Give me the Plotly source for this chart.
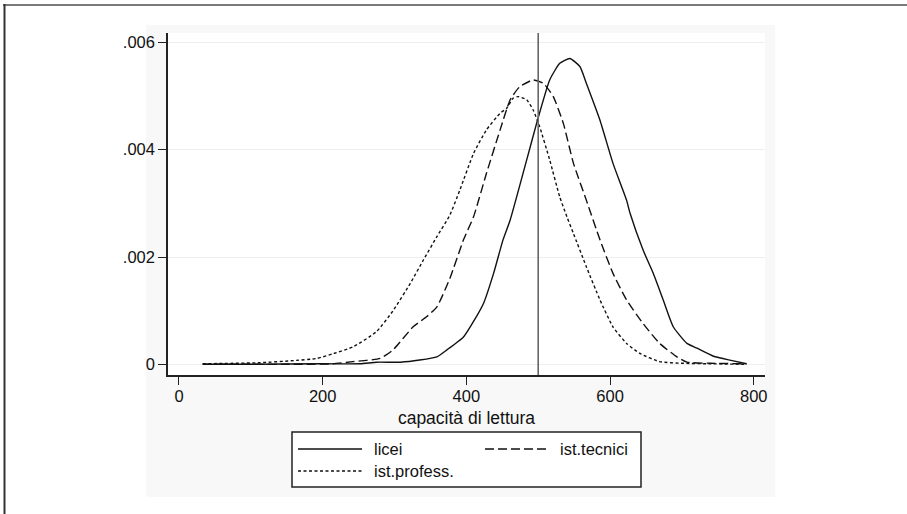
import plotly.graph_objects as go

# ---------------- data ----------------
series_names = ["licei", "ist.tecnici", "ist.profess."]

licei_x = [33, 100, 200, 252, 275, 308, 335, 359, 373, 396, 410, 424, 438, 451, 461,
           484, 499, 516, 530, 544, 558, 567, 586, 604, 623, 628, 646, 660, 674, 688,
           707, 721, 744, 770, 790]
licei_y = [0.0, 0.0, 0.00001, 0.00001, 0.00004, 0.00004, 0.00008, 0.00014, 0.00027,
           0.00051, 0.0008, 0.00114, 0.0017, 0.00232, 0.00269, 0.00381, 0.00455,
           0.0053, 0.00561, 0.0057, 0.00555, 0.00524, 0.00455, 0.00375, 0.00306,
           0.00281, 0.00213, 0.0017, 0.0012, 0.0007, 0.00039, 0.0003, 0.00015,
           0.00007, 0.00001]

tecnici_x = [33, 100, 150, 214, 242, 280, 298, 326, 345, 359, 377, 396, 410, 428, 447,
             461, 474, 493, 507, 521, 535, 549, 567, 586, 604, 623, 646, 669, 693, 707,
             740, 790]
tecnici_y = [0.0, 0.0, 0.0, 0.00001, 0.00005, 0.00011, 0.00027, 0.0007, 0.00089,
             0.00107, 0.0016, 0.00232, 0.00275, 0.00356, 0.00437, 0.00493, 0.00517,
             0.0053, 0.00524, 0.00499, 0.00449, 0.00375, 0.00306, 0.00232, 0.0017,
             0.0012, 0.00076, 0.00039, 0.00014, 0.00004, 0.00002, 0.00001]

profess_x = [33, 113, 160, 192, 215, 243, 275, 298, 322, 340, 359, 377, 391, 410, 428,
             447, 456, 465, 472, 484, 493, 502, 516, 530, 540, 549, 567, 586, 604, 623,
             642, 669, 700, 740, 790]
profess_y = [0.00001, 0.00003, 0.00007, 0.00011, 0.0002, 0.00033, 0.00061, 0.001,
             0.00151, 0.00194, 0.00238, 0.00278, 0.00325, 0.00393, 0.00437, 0.00468,
             0.00477, 0.00496, 0.00499, 0.00493, 0.00474, 0.00443, 0.00381, 0.00312,
             0.00275, 0.00244, 0.00182, 0.0012, 0.0007, 0.00039, 0.0002, 0.00005,
             0.00002, 0.00001, 0.0]

x_tickvals = [0, 200, 400, 600, 800]
x_ticktext = ["0", "200", "400", "600", "800"]
y_tickvals = [0, 0.002, 0.004, 0.006]
y_ticktext = ["0", ".002", ".004", ".006"]
ref_value = 500
x_title = "capacità di lettura"

# ---------------- layout geometry ----------------
W, H = 907, 514
L, R, T, B = 168, 142, 33, 139
PW, PH = W - L - R, H - T - B
FONT = "Liberation Sans, Arial, Helvetica, sans-serif"
FS = 16.5


def px(xp):
    return (xp - L) / PW


def py(yp):
    return (H - B - yp) / PH


styles = [
    dict(color="#111", width=1.4, dash="solid"),
    dict(color="#111", width=1.4, dash="9px,4px"),
    dict(color="#111", width=1.4, dash="3px,2.5px"),
]

fig = go.Figure()
for name, xs, ys, st in zip(series_names,
                            [licei_x, tecnici_x, profess_x],
                            [licei_y, tecnici_y, profess_y], styles):
    fig.add_trace(go.Scatter(x=xs, y=ys, mode="lines", name=name,
                             line=dict(st, shape="spline", smoothing=0.5),
                             showlegend=False, hoverinfo="skip"))

shapes = []
# outer frame (cropped figure border)
shapes.append(dict(type="line", xref="paper", yref="paper", x0=px(3), x1=px(907),
                   y0=py(5), y1=py(5), line=dict(color="#7a7a7a", width=2), layer="above"))
shapes.append(dict(type="line", xref="paper", yref="paper", x0=px(4.5), x1=px(4.5),
                   y0=py(4), y1=py(514), line=dict(color="#333", width=2), layer="above"))
# graph region (light gray)
shapes.append(dict(type="rect", xref="paper", yref="paper", x0=px(146), x1=px(775),
                   y0=py(25), y1=py(497), fillcolor="#f8f8f8", line=dict(width=0),
                   layer="below"))
# plot region (white)
shapes.append(dict(type="rect", xref="x domain", yref="y domain", x0=0, x1=1,
                   y0=0, y1=1, fillcolor="white", line=dict(width=0), layer="below"))
# reference vertical line
shapes.append(dict(type="line", xref="x", yref="y domain", x0=ref_value, x1=ref_value,
                   y0=0, y1=1, line=dict(color="#666", width=1.6), layer="above"))

# legend box
lg_x0, lg_x1, lg_y0, lg_y1 = 292, 641, 432, 487
shapes.append(dict(type="rect", xref="paper", yref="paper", x0=px(lg_x0), x1=px(lg_x1),
                   y0=py(lg_y0), y1=py(lg_y1), line=dict(color="#222", width=1.5),
                   fillcolor="white", layer="above"))
legend_pos = [(298, 362, 449, 372), (485, 547, 449, 558), (298, 362, 471, 372)]
annotations = []
for name, st, (sx0, sx1, sy, tx) in zip(series_names, styles, legend_pos):
    shapes.append(dict(type="line", xref="paper", yref="paper", x0=px(sx0), x1=px(sx1),
                       y0=py(sy), y1=py(sy), line=st, layer="above"))
    annotations.append(dict(xref="paper", yref="paper", x=px(tx), y=py(sy), text=name,
                            showarrow=False, xanchor="left", yanchor="middle",
                            font=dict(family=FONT, size=FS, color="#111")))

fig.update_layout(
    width=W, height=H,
    margin=dict(l=L, r=R, t=T, b=B, pad=0),
    paper_bgcolor="white", plot_bgcolor="white",
    font=dict(family=FONT, size=FS, color="#111"),
    shapes=shapes, annotations=annotations,
    showlegend=False, hovermode=False,
)
fig.update_xaxes(
    range=[-15.3, 815.7], tickvals=x_tickvals, ticktext=x_ticktext,
    showgrid=False, zeroline=False, showline=True, linecolor="#222", linewidth=1.5,
    ticks="outside", ticklen=8, tickwidth=1.2, tickcolor="#222",
    ticklabelstandoff=-3,
    tickfont=dict(family=FONT, size=FS, color="#111"),
    title=dict(text=x_title, font=dict(family=FONT, size=17.5, color="#111"), standoff=8),
)
fig.update_yaxes(
    range=[-0.000199, 0.006175], tickvals=y_tickvals, ticktext=y_ticktext,
    showgrid=True, gridcolor="#eeeeee", gridwidth=1, zeroline=False,
    showline=True, linecolor="#222", linewidth=1.5,
    ticks="outside", ticklen=8, tickwidth=1.2, tickcolor="#222",
    tickfont=dict(family=FONT, size=FS, color="#111"),
)

fig.write_html("out.html", config={"displayModeBar": False},
               post_script="document.body.style.margin='0px';")
